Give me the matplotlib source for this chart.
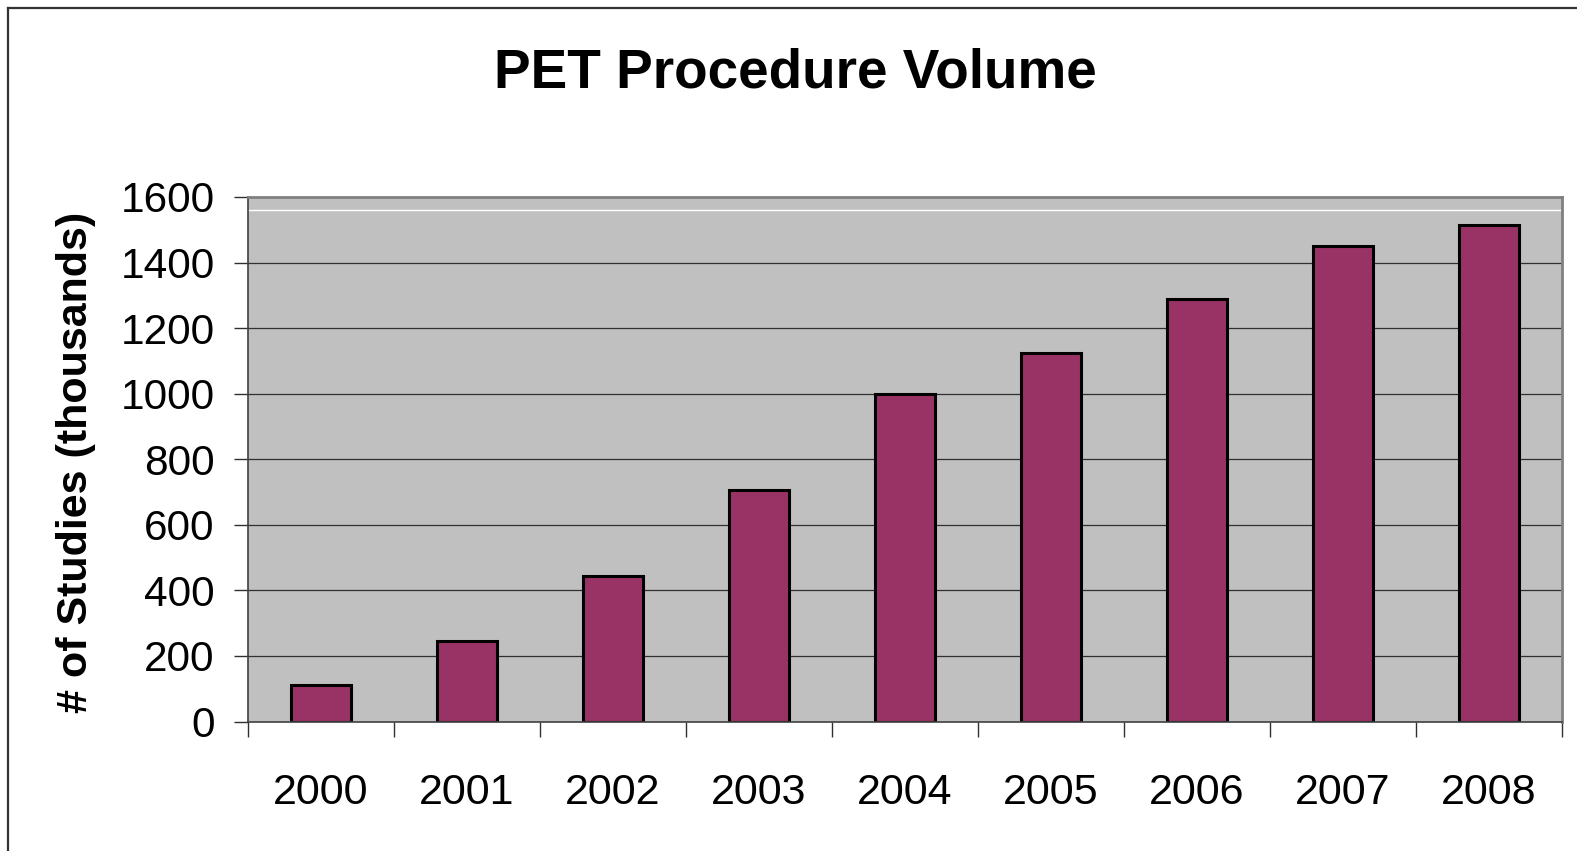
import matplotlib
matplotlib.use("Agg")
import matplotlib.pyplot as plt
from matplotlib.lines import Line2D
import numpy as np

plt.rcParams['font.family'] = ['Liberation Sans', 'DejaVu Sans']

years = ['2000', '2001', '2002', '2003', '2004', '2005', '2006', '2007', '2008']
studies = [110, 245, 445, 705, 1000, 1125, 1288, 1452, 1516]
y_ticks = [0, 200, 400, 600, 800, 1000, 1200, 1400, 1600]

W, H = 1577, 851
fig = plt.figure(figsize=(W / 100, H / 100), dpi=100)
fig.patch.set_facecolor('white')

# outer chart frame (left and top edges)
fig.add_artist(Line2D([8 / W, 8 / W], [0, 1 - 8 / H], color='#333333', lw=1.6,
                      transform=fig.transFigure))
fig.add_artist(Line2D([8 / W, 1], [1 - 8 / H, 1 - 8 / H], color='#333333', lw=1.6,
                      transform=fig.transFigure))

left, right, bottom, top = 248 / W, 1562 / W, 1 - 721.5 / H, 1 - 197 / H
ax = fig.add_axes([left, bottom, right - left, top - bottom])
ax.set_facecolor('#C0C0C0')

x = np.arange(len(years))
ax.bar(x, studies, width=0.41, color='#993366', edgecolor='black', linewidth=2.2, zorder=3)

ax.set_xlim(-0.5, len(years) - 0.5)
ax.set_ylim(0, 1600)

# horizontal gridlines
for v in y_ticks[1:-1]:
    ax.axhline(v, color='#303030', lw=0.9, zorder=1)
ax.axhline(1560, color='white', lw=1.0, zorder=1)

ax.set_yticks(y_ticks)
ax.set_yticklabels([str(v) for v in y_ticks])
ax.tick_params(axis='y', direction='out', length=10, width=1, color='#303030',
               labelsize=30.5, pad=14)

ax.set_xticks(x)
ax.set_xticklabels(years)
ax.set_xticks(np.arange(-0.5, len(years)), minor=True)
ax.tick_params(axis='x', which='major', length=0, labelsize=31, pad=37)
ax.tick_params(axis='x', which='minor', direction='out', length=11, width=1, color='#303030')

for side in ['top', 'right']:
    ax.spines[side].set_color('#808080')
    ax.spines[side].set_linewidth(2)
for side in ['left', 'bottom']:
    ax.spines[side].set_color('#404040')
    ax.spines[side].set_linewidth(1.2)
ax.spines['bottom'].set_zorder(4)

fig.text(795 / W, 1 - 73 / H, 'PET Procedure Volume', ha='center', va='center',
         fontsize=39.5, fontweight='bold')
fig.text(76 / W, 1 - 462 / H, '# of Studies (thousands)', ha='center', va='center',
         rotation=90, fontsize=31, fontweight='bold')

fig.savefig('out.png', dpi=100)
